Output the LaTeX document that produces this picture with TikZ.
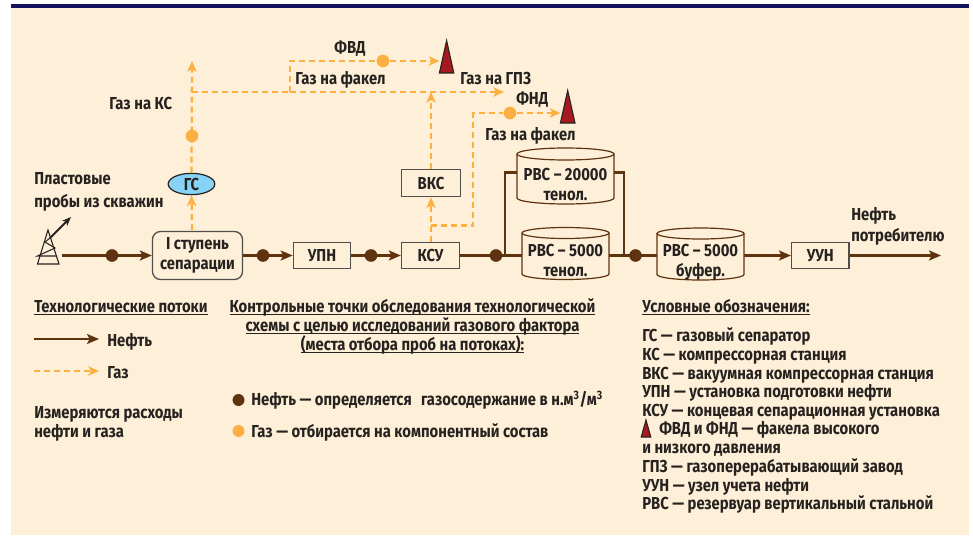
\documentclass[tikz,border=0pt]{standalone}
\usepackage{fontspec}
\newfontfamily\dfont{Fira Sans}[FakeStretch=0.855]
\usetikzlibrary{arrows.meta,shapes.geometric,calc}
\definecolor{oil}{HTML}{5F3210}
\definecolor{gas}{HTML}{FDB042}
\definecolor{bgc}{HTML}{FEF0D8}
\definecolor{navy}{HTML}{13125E}
\definecolor{flare}{HTML}{A5191F}
\definecolor{gsblue}{HTML}{87D3F8}
\definecolor{ink}{HTML}{262220}
\newcommand{\ulx}[1]{\setbox0\hbox{#1}\leavevmode\rlap{\rule[-2.2pt]{\wd0}{1pt}}\box0}
\newcommand{\dtext}{\fontsize{13pt}{14pt}\dfont\bfseries}
\tikzset{
 x=0.75pt,y=-0.75pt,
 txt/.style={font=\dtext,text=ink,inner sep=0pt,anchor=mid west,yshift=-2.4pt},
 ctr/.style={txt,anchor=mid},
 boxn/.style={draw=ink!80,line width=1pt,fill=bgc,inner sep=0pt,font=\dtext,text=ink,align=center},
 oildot/.style={circle,fill=oil,inner sep=0pt,minimum size=9.5pt},
 gasdot/.style={circle,fill=gas,inner sep=0pt,minimum size=9.5pt},
 oilline/.style={draw=oil,line width=1.9pt},
 oilarrow/.style={oilline,-{Stealth[length=9pt,width=7.5pt,inset=2pt]}},
 gasline/.style={draw=gas,line width=1.7pt,dash pattern=on 4.5pt off 3pt},
 gasarrow/.style={gasline,-{Stealth[length=8pt,width=7pt,inset=2pt,fill=gas]}},
 tankline/.style={draw=oil,line width=0.9pt,fill=bgc},
 flareshape/.style={draw=ink,line width=0.8pt,fill=flare,line join=miter},
}
\newcommand{\tanksym}[5]{%
 \fill[bgc] (#1,#3) rectangle (#2,#4);
 \draw[tankline] (#1,#3) -- (#1,#4) arc[start angle=180,end angle=0,x radius={(#2-#1)/2},y radius=#5] -- (#2,#3);
 \draw[tankline] ({(#1+#2)/2},#3) ellipse[x radius={(#2-#1)/2},y radius=#5];
}
\begin{document}
\begin{tikzpicture}
\useasboundingbox (0,0) rectangle (973,535);
\fill[white] (0,0) rectangle (973,535);
\fill[bgc] (10.5,8) rectangle (968.5,535);
\fill[navy] (10.5,3.8) rectangle (968.5,8);

% ---- oil nodes
\node[boxn,rounded corners=6pt,minimum width=67.5pt,minimum height=36pt] (sep) at (197.5,255.5) {I ступень\\[1pt]сепарации};
\node[boxn,minimum width=43pt,minimum height=19.5pt] (upn) at (322,255.5) {УПН};
\node[boxn,minimum width=43.5pt,minimum height=19.5pt] (ksu) at (430.5,255.5) {КСУ};
\node[boxn,minimum width=44.5pt,minimum height=20.5pt] (vks) at (431,183) {ВКС};
\node[boxn,minimum width=43pt,minimum height=19.5pt] (uun) at (820.3,255.5) {УУН};
\coordinate (wellout) at (62,255.5);
\coordinate (t1l) at (522,255.5);
\coordinate (t1r) at (609,255.5);
\coordinate (t3l) at (657,255.5);
\coordinate (t3r) at (744,255.5);
\coordinate (end) at (941,255.5);
\node[oildot] (d1) at (112,255.5) {};
\node[oildot] (d2) at (263,255.5) {};
\node[oildot] (d3) at (371,255.5) {};
\node[oildot] (d4) at (496,255.5) {};
\node[oildot] (d5) at (635.5,255.5) {};
\coordinate (tj1) at (505,255.5);
\coordinate (tj2) at (624,255.5);
\coordinate (t2l) at (517,172.5);
\coordinate (t2r) at (614,172.5);

% oil connectors
\draw[oilarrow] (wellout) -- (sep.west);
\draw[oilarrow] (sep.east) -- (upn.west);
\draw[oilarrow] (upn.east) -- (ksu.west);
\draw[oilline] (ksu.east) -- (t1l);
\draw[oilline] (t1r) -- (t3l);
\draw[oilarrow] (t3r) -- (uun.west);
\draw[oilarrow] (uun.east) -- (end);
\draw[oilline] (tj1) |- (t2l);
\draw[oilline] (tj2) |- (t2r);

% tanks
\tanksym{517}{614}{154}{198}{6}
\tanksym{522}{609}{233}{274}{5.5}
\tanksym{657}{744}{233.5}{274.5}{5.5}
\node[ctr] (t2a) at (565.5,174) {РВС – 20000};
\node[ctr] (t2b) at (565.5,194) {тенол.};
\node[ctr] (t1a) at (565.5,250) {РВС – 5000};
\node[ctr] (t1b) at (565.5,270) {тенол.};
\node[ctr] (t3a) at (700.5,250) {РВС – 5000};
\node[ctr] (t3b) at (700.5,270) {буфер.};

% ---- gas
\node[ellipse,draw=ink,line width=0.9pt,fill=gsblue,inner sep=0pt,minimum width=35pt,minimum height=16pt,font=\dtext,text=ink] (gs) at (191.5,184) {ГС};
\node[gasdot] (g1) at (192,136) {};
\node[gasdot] (g2) at (383,61) {};
\node[gasdot] (g3) at (510,113) {};
\coordinate (kstop) at (192,61);
\coordinate (j1) at (192,92);
\coordinate (j2) at (290,92);
\coordinate (j3) at (431,92);
\coordinate (gpz) at (504,92);
\coordinate (j4) at (290,61);
\coordinate (j5) at (431,225.5);
\coordinate (j6) at (473,225.5);
\coordinate (j7) at (473,113);
\coordinate (f1in) at (439.5,61);
\coordinate (f2in) at (560.5,113);
\draw[gasarrow] (192,230) -- (gs.south);
\draw[gasarrow] (gs.north) -- (kstop);
\draw[gasline] (j1) -- (j2);
\draw[gasarrow] (j2) -- (gpz);
\draw[gasline] (j2) -- (j4) -- (g2);
\draw[gasarrow] (g2) -- (f1in);
\draw[gasarrow] (ksu.north -| j5) -- (vks.south);
\draw[gasarrow] (vks.north) -- (j3);
\draw[gasline] (j5) -- (j6) -- (j7) -- (g3);
\draw[gasarrow] (g3) -- (f2in);
\draw[flareshape] (446.6,40.5) -- (453.8,73) -- (439.4,73) -- cycle;
\draw[flareshape] (567.7,90.5) -- (575,123) -- (560.4,123) -- cycle;

% ---- well
\coordinate (wa) at (48,230);
\coordinate (wb) at (37.5,264);
\coordinate (wc) at (59,264);
\draw[ink,line width=0.8pt,line join=miter] (wa) -- (wb) -- (wc) -- cycle;
\draw[ink,line width=0.8pt] (57,256) -- (37.5,256) -- (55,248) -- (45,242) -- (50,238);
\draw[ink,line width=1.5pt,-{Stealth[length=7pt,width=5.5pt]}] (50,238) -- (71,217);

% ---- diagram labels
\node[ctr] (lfvd) at (350,47) {ФВД};
\node[txt] (lf1) at (295,78) {Газ на факел};
\node[txt] (lgpz) at (460,78) {Газ на ГПЗ};
\node[txt] (lfnd) at (516,98.5) {ФНД};
\node[txt] (lf2) at (485,134) {Газ на факел};
\node[txt] (lks) at (109,103) {Газ на КС};
\node[txt] (lp1) at (34,178) {Пластовые};
\node[txt] (lp2) at (34,201) {пробы из скважин};
\node[txt] (ln1) at (851,214) {Нефть};
\node[txt] (ln2) at (851,235) {потребителю};

% ---- left legend
\node[txt] (h1) at (34,306) {\ulx{Технологические потоки}};
\coordinate (lo1) at (34,339);
\coordinate (lo2) at (99,339);
\coordinate (lg1) at (34,371);
\coordinate (lg2) at (99,371);
\draw[oilarrow,line width=1.5pt] (lo1) -- (lo2);
\draw[gasarrow,line width=1.5pt] (lg1) -- (lg2);
\node[txt] (ln) at (107,340) {Нефть};
\node[txt] (lg) at (107,372) {Газ};
\node[txt] (m1) at (34,412) {Измеряются расходы};
\node[txt] (m2) at (34,431) {нефти и газа};

% ---- centre legend
\node[ctr] (c1) at (412.5,306) {\ulx{Контрольные точки обследования технологической}};
\node[ctr] (c2) at (412.5,325) {\ulx{схемы с целью исследований газового фактора}};
\node[ctr] (c3) at (412.5,344) {\ulx{(места отбора проб на потоках):}};
\node[oildot,minimum size=9pt] (cd1) at (238.5,400) {};
\node[gasdot,minimum size=9pt] (cd2) at (238.5,431) {};
\node[txt] (ct1) at (251,399) {Нефть — определяется\hspace{7pt}газосодержание в н.м\textsuperscript{3}/м\textsuperscript{3}};
\node[txt] (ct2) at (251,431) {Газ — отбирается на компонентный состав};

% ---- right legend
\node[txt] (r0) at (642,306) {\ulx{Условные обозначения:}};
\node[txt] (r1) at (642,335) {ГС — газовый сепаратор};
\node[txt] (r2) at (642,354) {КС — компрессорная станция};
\node[txt] (r3) at (642,373) {ВКС — вакуумная компрессорная станция};
\node[txt] (r4) at (642,391) {УПН — установка подготовки нефти};
\node[txt] (r5) at (642,410) {КСУ — концевая сепарационная установка};
\draw[flareshape] (646,420) -- (650.8,437) -- (641.2,437) -- cycle;
\node[txt] (r6) at (659,428.5) {ФВД и ФНД — факела высокого};
\node[txt] (r7) at (642,447) {и низкого давления};
\node[txt] (r8) at (642,466) {ГПЗ — газоперерабатывающий завод};
\node[txt] (r9) at (642,485) {УУН — узел учета нефти};
\node[txt] (r10) at (642,503) {РВС — резервуар вертикальный стальной};
\end{tikzpicture}
\end{document}
